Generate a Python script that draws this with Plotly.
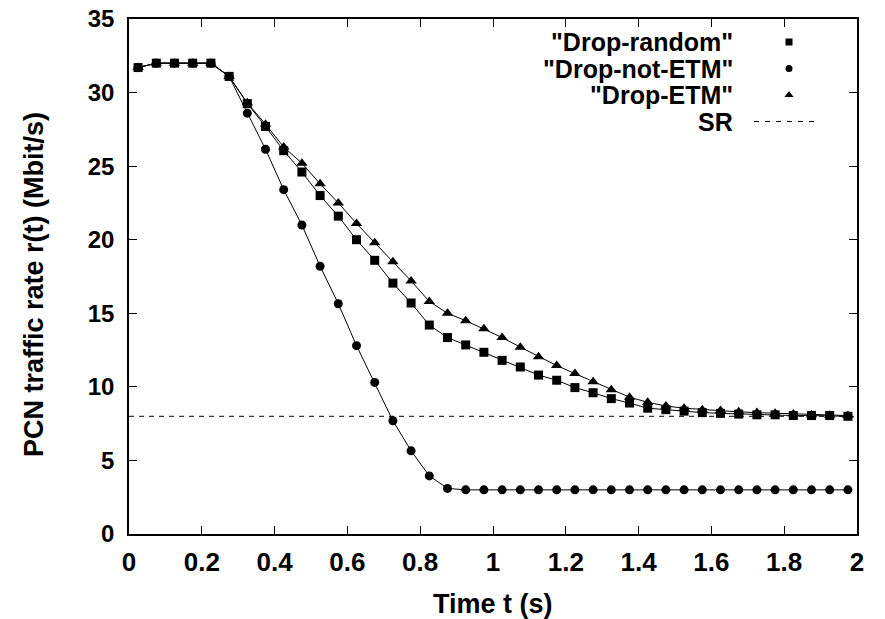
import plotly.graph_objects as go

# ---- data ----
time_s = [0.025, 0.075, 0.125, 0.175, 0.225, 0.275, 0.325, 0.375, 0.425, 0.475,
          0.525, 0.575, 0.625, 0.675, 0.725, 0.775, 0.825, 0.875, 0.925, 0.975,
          1.025, 1.075, 1.125, 1.175, 1.225, 1.275, 1.325, 1.375, 1.425, 1.475,
          1.525, 1.575, 1.625, 1.675, 1.725, 1.775, 1.825, 1.875, 1.925, 1.975]

drop_random = [31.7, 32.0, 32.0, 32.0, 32.0, 31.1, 29.25, 27.7, 26.05, 24.6,
               23.0, 21.6, 20.0, 18.6, 17.05, 15.7, 14.2, 13.35, 12.85, 12.35,
               11.8, 11.35, 10.8, 10.45, 9.95, 9.6, 9.2, 8.9, 8.55, 8.45,
               8.35, 8.25, 8.2, 8.15, 8.1, 8.1, 8.05, 8.05, 8.05, 8.0]

drop_not_etm = [31.7, 32.0, 32.0, 32.0, 32.0, 31.1, 28.6, 26.15, 23.4, 21.0,
                18.2, 15.65, 12.8, 10.3, 7.7, 5.65, 3.95, 3.1, 3.0, 3.0,
                3.0, 3.0, 3.0, 3.0, 3.0, 3.0, 3.0, 3.0, 3.0, 3.0,
                3.0, 3.0, 3.0, 3.0, 3.0, 3.0, 3.0, 3.0, 3.0, 3.0]

drop_etm = [31.7, 32.0, 32.0, 32.0, 32.0, 31.1, 29.3, 27.85, 26.3, 25.2,
            23.8, 22.5, 21.1, 19.8, 18.5, 17.2, 15.8, 15.0, 14.5, 13.95,
            13.35, 12.7, 12.05, 11.45, 10.9, 10.35, 9.8, 9.3, 8.95, 8.7,
            8.55, 8.45, 8.4, 8.3, 8.25, 8.2, 8.15, 8.1, 8.07, 8.05]

sr_x = [0, 2]
sr_value = 8

series_names = ['"Drop-random"', '"Drop-not-ETM"', '"Drop-ETM"', 'SR']
x_ticks = [0, 0.2, 0.4, 0.6, 0.8, 1, 1.2, 1.4, 1.6, 1.8, 2]
x_tick_text = ['0', '0.2', '0.4', '0.6', '0.8', '1', '1.2', '1.4', '1.6', '1.8', '2']
y_ticks = [0, 5, 10, 15, 20, 25, 30, 35]

# ---- figure ----
W, H = 885, 619
L, R, T, B = 129, 28, 19, 85
pw, ph = W - L - R, H - T - B

FONT = "Liberation Sans"
fig = go.Figure()

fig.add_trace(go.Scatter(x=sr_x, y=[sr_value] * len(sr_x), mode="lines",
                         line=dict(color="black", width=1, dash="5px,5px"),
                         showlegend=False, hoverinfo="skip"))

styles = [("square", 9), ("circle", 9), ("triangle-up", 10)]
for name, ys, (sym, sz) in zip(series_names[:3], [drop_random, drop_not_etm, drop_etm], styles):
    fig.add_trace(go.Scatter(x=time_s, y=ys, mode="lines+markers", name=name,
                             line=dict(color="black", width=1),
                             marker=dict(symbol=sym, size=sz, color="black"),
                             showlegend=False))

# ---- custom gnuplot-style key (text right-aligned, sample at right) ----
def px_to_paper_x(px):
    return (px - L) / pw

def px_to_paper_y(py):
    return (H - B - py) / ph

row_y = [42, 68.5, 95, 121.5]
text_right = 735
sample_x = 789
key_syms = [("square", 7), ("circle", 7), ("triangle-up", 8)]
for i, (sym, sz) in enumerate(key_syms):
    fig.add_trace(go.Scatter(x=[px_to_paper_x(sample_x)], y=[px_to_paper_y(row_y[i])],
                             xaxis="x2", yaxis="y2", mode="markers",
                             marker=dict(symbol=sym, size=sz, color="black"),
                             showlegend=False, hoverinfo="skip"))
fig.add_trace(go.Scatter(x=[px_to_paper_x(754), px_to_paper_x(818)],
                         y=[px_to_paper_y(row_y[3])] * 2,
                         xaxis="x2", yaxis="y2", mode="lines",
                         line=dict(color="black", width=1, dash="5px,6px"),
                         showlegend=False, hoverinfo="skip"))

annotations = []
for i, name in enumerate(series_names):
    annotations.append(dict(text=name, xref="paper", yref="paper",
                            x=px_to_paper_x(text_right), y=px_to_paper_y(row_y[i]),
                            xanchor="right", yanchor="middle", showarrow=False,
                            font=dict(family=FONT, size=25, color="black", weight="bold")))

annotations.append(dict(text="Time t (s)", xref="paper", yref="paper",
                        x=0.5, y=px_to_paper_y(604), xanchor="center", yanchor="middle",
                        showarrow=False,
                        font=dict(family=FONT, size=27, color="black", weight="bold")))
annotations.append(dict(text="PCN traffic rate r(t) (Mbit/s)", xref="paper", yref="paper",
                        x=px_to_paper_x(34), y=px_to_paper_y(285), textangle=-90,
                        xanchor="center", yanchor="middle", showarrow=False,
                        font=dict(family=FONT, size=27, color="black", weight="bold")))

axis_common = dict(showline=True, linecolor="black", linewidth=1.5, mirror="ticks",
                   ticks="inside", ticklen=8, tickwidth=1.2, tickcolor="black",
                   showgrid=False, zeroline=False, automargin=False)

fig.update_layout(
    width=W, height=H,
    margin=dict(l=L, r=R, t=T, b=B, pad=0, autoexpand=False),
    paper_bgcolor="white", plot_bgcolor="white",
    xaxis=dict(range=[0, 2], tickvals=x_ticks, ticktext=x_tick_text,
               tickfont=dict(family=FONT, size=26, color="black", weight="bold"),
               ticklabelstandoff=4, **axis_common),
    yaxis=dict(range=[0, 35], tickvals=y_ticks,
               tickfont=dict(family=FONT, size=24, color="black", weight="bold"),
               ticklabelstandoff=8, **axis_common),
    xaxis2=dict(overlaying="x", range=[0, 1], visible=False),
    yaxis2=dict(overlaying="y", range=[0, 1], visible=False),
    annotations=annotations,
    showlegend=False,
)

fig.write_html("out.html", config={"displayModeBar": False},
               post_script="document.body.style.margin='0';document.body.style.overflow='hidden';")
